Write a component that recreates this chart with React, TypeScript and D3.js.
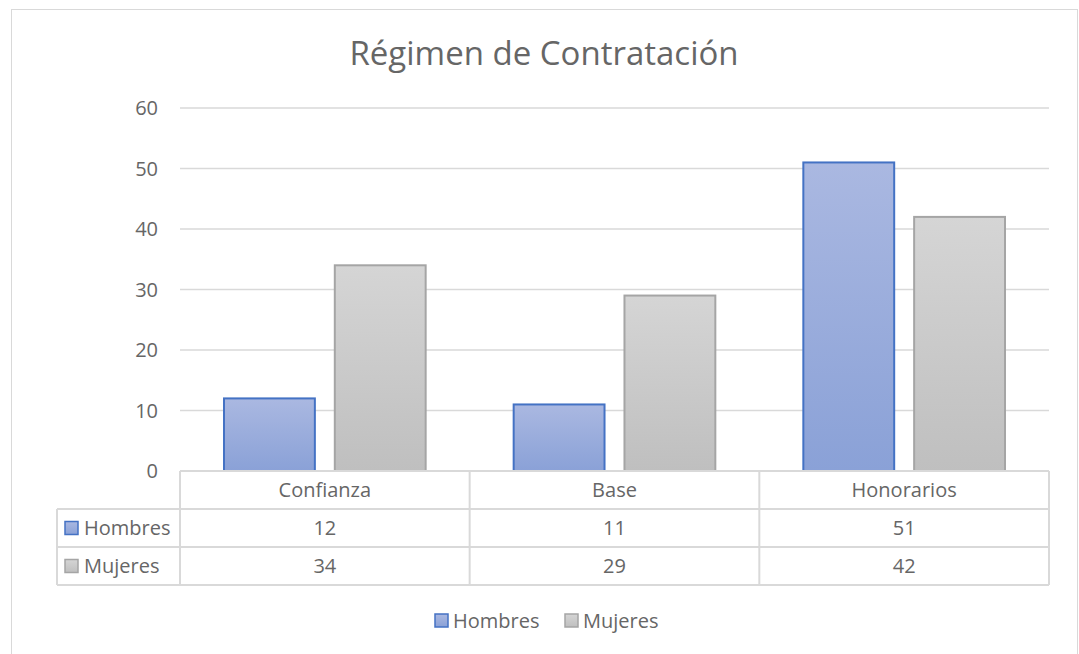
import React from 'react';
import * as d3 from 'd3';

const categories = ['Confianza', 'Base', 'Honorarios'];
const seriesNames = ['Hombres', 'Mujeres'];
const hombres = [12, 11, 51];
const mujeres = [34, 29, 42];
const yTicks = [0, 10, 20, 30, 40, 50, 60];

const W = 1079;
const H = 654;
const FONT = '"Open Sans", Lato, sans-serif';
const TXT = '#666666';
const GRID = '#d9d9d9';
const FS = 20;

const styles = [
  { fillTop: '#aab8e1', fillBot: '#8aa1d7', stroke: '#4472c4' },
  { fillTop: '#d5d5d5', fillBot: '#bfbfbf', stroke: '#a5a5a5' },
];

export default function App() {
  const left = 180;
  const right = 1049;
  const top = 108;
  const bottom = 471;
  const rowH = 38;
  const tableLeft = 57;

  const y = d3.scaleLinear().domain([0, 60]).range([bottom, top]);
  const x0 = d3.scaleBand<string>().domain(categories).range([left, right]).paddingInner(0).paddingOuter(0);
  const x1 = d3.scaleBand<string>().domain(seriesNames).range([44, x0.bandwidth() - 44]).paddingInner(0.18);

  const values = [hombres, mujeres];

  return (
    <svg width={W} height={H} style={{ position: 'absolute', left: 0, top: 0, fontFamily: FONT }}>
      <defs>
        {styles.map((s, i) => (
          <linearGradient key={i} id={`g${i}`} x1="0" y1="0" x2="0" y2="1">
            <stop offset="0" stopColor={s.fillTop} />
            <stop offset="1" stopColor={s.fillBot} />
          </linearGradient>
        ))}
      </defs>
      <rect x={0} y={0} width={W} height={H} fill="#fff" />
      <rect x={11.5} y={9.5} width={1066} height={660} fill="#fff" stroke="#d9d9d9" strokeWidth={1} />

      <text x={544} y={65} textAnchor="middle" fontSize={33} fill={TXT}>Régimen de Contratación</text>

      {yTicks.map((t) => (
        <g key={t}>
          {t > 0 && <line x1={left} x2={right} y1={y(t)} y2={y(t)} stroke={GRID} strokeWidth={1.3} />}
          <text x={158} y={y(t)} dy="0.35em" textAnchor="end" fontSize={FS} fill={TXT}>{t}</text>
        </g>
      ))}

      {categories.map((c, ci) => (
        <g key={c} transform={`translate(${x0(c)},0)`}>
          {seriesNames.map((s, si) => {
            const v = values[si][ci];
            return (
              <rect
                key={s}
                x={x1(s)}
                y={y(v)}
                width={x1.bandwidth()}
                height={y(0) - y(v)}
                fill={`url(#g${si})`}
                stroke={styles[si].stroke}
                strokeWidth={2}
              />
            );
          })}
        </g>
      ))}

      {/* data table */}
      <g stroke={GRID} strokeWidth={2} fill="none">
        <line x1={left} x2={right} y1={bottom} y2={bottom} />
        <line x1={tableLeft} x2={right} y1={bottom + rowH} y2={bottom + rowH} />
        <line x1={tableLeft} x2={right} y1={bottom + rowH * 2} y2={bottom + rowH * 2} />
        <line x1={tableLeft} x2={right} y1={bottom + rowH * 3} y2={bottom + rowH * 3} />
        <line x1={tableLeft} x2={tableLeft} y1={bottom + rowH} y2={bottom + rowH * 3} />
        {[...categories.map((c) => x0(c) as number), right].map((xx, i) => (
          <line key={i} x1={xx} x2={xx} y1={bottom} y2={bottom + rowH * 3} />
        ))}
      </g>
      {categories.map((c) => (
        <text key={c} x={(x0(c) as number) + x0.bandwidth() / 2} y={bottom + rowH / 2} dy="0.35em" textAnchor="middle" fontSize={FS} fill={TXT}>{c}</text>
      ))}
      {seriesNames.map((s, si) => {
        const cy = bottom + rowH * (si + 1) + rowH / 2;
        return (
          <g key={s}>
            <rect x={65} y={cy - 6.5} width={13} height={13} fill={`url(#g${si})`} stroke={styles[si].stroke} strokeWidth={1.5} />
            <text x={84} y={cy} dy="0.35em" fontSize={FS} fill={TXT}>{s}</text>
            {categories.map((c, ci) => (
              <text key={c} x={(x0(c) as number) + x0.bandwidth() / 2} y={cy} dy="0.35em" textAnchor="middle" fontSize={FS} fill={TXT}>{values[si][ci]}</text>
            ))}
          </g>
        );
      })}

      {/* legend */}
      {seriesNames.map((s, si) => {
        const lx = si === 0 ? 435 : 565;
        return (
          <g key={s}>
            <rect x={lx} y={614} width={13} height={13} fill={`url(#g${si})`} stroke={styles[si].stroke} strokeWidth={1.5} />
            <text x={lx + 18} y={620.5} dy="0.35em" fontSize={FS} fill={TXT}>{s}</text>
          </g>
        );
      })}
    </svg>
  );
}
